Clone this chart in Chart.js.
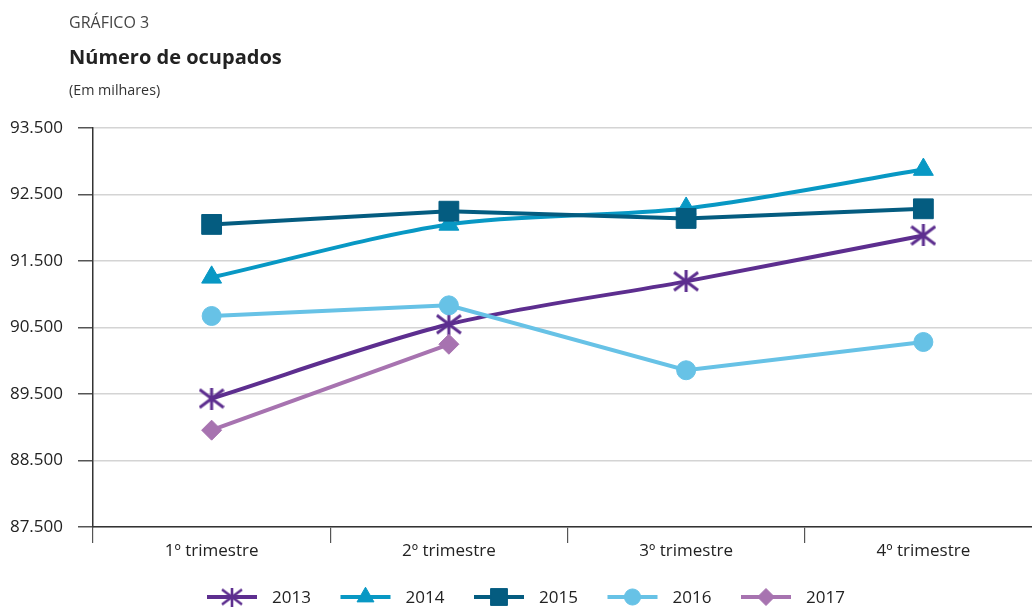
<!DOCTYPE html>
<html><head><meta charset="utf-8">
<script src="https://cdn.jsdelivr.net/npm/chart.js@4/dist/chart.umd.min.js"></script>
<style>
html,body{margin:0;padding:0;background:#fff;overflow:hidden;width:1032px;height:607px;}
#wrap{position:relative;width:1032px;height:607px;overflow:hidden;background:#fff;}
canvas{position:absolute;left:0;top:0;}
.t{position:absolute;left:69px;font-family:'Open Sans',sans-serif;color:#222;white-space:nowrap;line-height:normal;}
</style></head><body>
<div id="wrap">
<canvas id="c" width="1057" height="607" style="width:1057px;height:607px;"></canvas>
<div class="t" style="top:11px;font-size:16px;color:#444;">GRÁFICO 3</div>
<div class="t" style="top:43px;font-size:20px;font-weight:700;color:#222;">Número de ocupados</div>
<div class="t" style="top:80px;font-size:14.3px;color:#333;">(Em milhares)</div>
</div>
<script>
const categories = ['1º trimestre', '2º trimestre', '3º trimestre', '4º trimestre'];
const years = ['2013', '2014', '2015', '2016', '2017'];
const s2013 = [89432, 90548, 91194, 91884];
const s2014 = [91254, 92050, 92290, 92875];
const s2015 = [92050, 92249, 92140, 92285];
const s2016 = [90673, 90833, 89857, 90282];
const s2017 = [88956, 90248, null, null];
const yTicks = [87500, 88500, 89500, 90500, 91500, 92500, 93500];

const colors = ['#5d2e8f', '#0898c4', '#045c80', '#67c2e6', '#a773b0'];
const series = [s2013, s2014, s2015, s2016, s2017];

function fmt(v) { return String(v).replace(/\B(?=(\d{3})+(?!\d))/g, '.'); }

// asterisk marker (vertical line + X) for 2013
function makeStar(color, w, h, lw) {
  const c = document.createElement('canvas');
  c.width = w; c.height = h;
  const g = c.getContext('2d');
  g.strokeStyle = color; g.lineWidth = lw; g.lineCap = 'butt';
  g.beginPath();
  g.moveTo(w / 2, 0); g.lineTo(w / 2, h);
  g.moveTo(1, 2); g.lineTo(w - 1, h - 2);
  g.moveTo(1, h - 2); g.lineTo(w - 1, 2);
  g.stroke();
  return c;
}
const starImg = makeStar(colors[0], 26, 22, 3);
const starLegend = makeStar(colors[0], 22, 19, 2.6);

const pointStyles = [starImg, 'triangle', 'rect', 'circle', 'rectRot'];
const pointRadii = [12, 11.5, 14, 9.5, 10];
const tensions = [0.3, 0.3, 0, 0, 0];

const datasets = years.map((y, i) => ({
  label: y,
  data: series[i],
  borderColor: colors[i],
  backgroundColor: colors[i],
  pointBackgroundColor: colors[i],
  pointBorderColor: colors[i],
  pointBorderWidth: 1,
  borderWidth: 4,
  pointStyle: pointStyles[i],
  pointRadius: pointRadii[i],
  pointHoverRadius: pointRadii[i],
  tension: tensions[i],
  order: years.length - 1 - i,
  spanGaps: false,
  fill: false,
  clip: false
}));

const legendPlugin = {
  id: 'customLegend',
  afterDraw(chart) {
    const ctx = chart.ctx;
    const y = 597;
    let x = 207;
    chart.data.datasets.forEach((ds, i) => {
      ctx.save();
      ctx.strokeStyle = ds.borderColor;
      ctx.fillStyle = ds.borderColor;
      ctx.lineWidth = 4;
      ctx.beginPath(); ctx.moveTo(x, y); ctx.lineTo(x + 50, y); ctx.stroke();
      ctx.lineWidth = 1;
      const st = (i === 0) ? starLegend : ds.pointStyle;
      Chart.helpers.drawPoint(ctx, { pointStyle: st, radius: ds.pointRadius * 0.85, rotation: 0, borderWidth: 1 }, x + 25, y);
      ctx.fillStyle = '#222';
      ctx.font = '17px "Open Sans"';
      ctx.textBaseline = 'middle';
      ctx.textAlign = 'left';
      ctx.fillText(ds.label, x + 65, y + 1);
      ctx.restore();
      x += 133.5;
    });
  }
};

new Chart(document.getElementById('c'), {
  type: 'line',
  data: { labels: categories, datasets: datasets },
  options: {
    responsive: false,
    animation: false,
    events: [],
    layout: { padding: { top: 128, right: 4, left: 0, bottom: 0 } },
    plugins: { legend: { display: false }, tooltip: { enabled: false }, title: { display: false } },
    scales: {
      x: {
        offset: true,
        grid: { offset: true, drawOnChartArea: false, drawTicks: true, tickLength: 16, tickColor: '#555', lineWidth: 1.2 },
        border: { display: true, color: '#333', width: 1.5 },
        ticks: { color: '#222', font: { family: 'Open Sans', size: 17 }, padding: -2, maxRotation: 0 },
        afterFit(scale) { scale.height = 80; }
      },
      y: {
        min: 87500, max: 93500,
        afterBuildTicks(scale) { scale.ticks = yTicks.map(v => ({ value: v })); },
        grid: { color: '#d4d4d4', lineWidth: 1.5, tickLength: 15, tickColor: '#555', drawTicks: true },
        border: { display: true, color: '#333', width: 1.5 },
        ticks: { color: '#222', font: { family: 'Open Sans', size: 17 }, padding: 15, callback: (v) => fmt(v) },
        afterFit(scale) { scale.width = 93; }
      }
    }
  },
  plugins: [legendPlugin]
});
</script>
</body></html>
